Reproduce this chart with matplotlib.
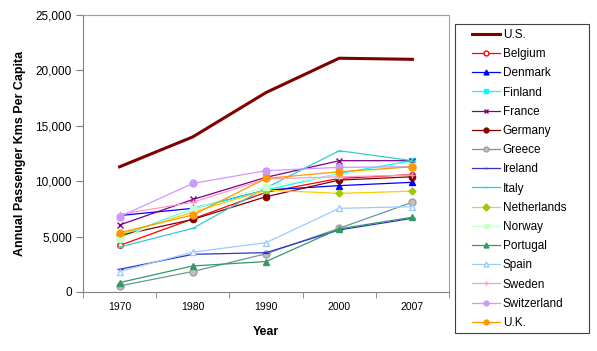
import matplotlib.pyplot as plt
from matplotlib.patches import Rectangle
import numpy as np

plt.rcParams['font.family'] = ['Liberation Sans', 'DejaVu Sans']

years = ['1970', '1980', '1990', '2000', '2007']

us = [11300, 14000, 18000, 21100, 21000]
belgium = [4200, 6600, 9000, 10250, 10600]
denmark = [6900, 7550, 9200, 9600, 9900]
finland = [5000, 7500, 9200, 10700, 11850]
france = [6050, 8350, 10350, 11850, 11850]
germany = [5100, 6550, 8600, 10100, 10400]
greece = [550, 1850, 3450, 5750, 8100]
ireland = [2050, 3400, 3550, 5600, 6650]
italy = [4050, 5750, 9400, 12750, 11850]
netherlands = [5200, 7200, 9200, 8900, 9100]
norway = [4800, 7500, 9500, 10600, 11400]
portugal = [850, 2350, 2750, 5700, 6750]
spain = [1850, 3600, 4450, 7550, 7700]
sweden = [7000, 8100, 10200, 10400, 10550]
switzerland = [6800, 9800, 10950, 11250, 11300]
uk = [5350, 6950, 10250, 10850, 11300]

fig = plt.figure(figsize=(5.97, 3.51), dpi=100)
ax = fig.add_axes([83/597, 1 - 292/351, (449 - 83)/597, (292 - 15)/351])

x = np.arange(len(years))

ax.plot(x, us, color='#800000', lw=2.2, label='U.S.')
ax.plot(x, belgium, color='#FF0000', lw=0.9, marker='o', ms=4, mfc='white', mec='#FF0000', label='Belgium')
ax.plot(x, denmark, color='#0000FF', lw=0.9, marker='^', ms=4.5, label='Denmark')
ax.plot(x, finland, color='#00FFFF', lw=0.9, marker='s', ms=4, label='Finland')
ax.plot(x, france, color='#800080', lw=0.9, marker='x', ms=4.5, label='France')
ax.plot(x, germany, color='#800000', lw=0.9, marker='o', ms=4.5, label='Germany')
ax.plot(x, greece, color='#669999', lw=0.9, marker='o', ms=5, mfc='#C0C0C0', mec='#A0A0A0', label='Greece')
ax.plot(x, ireland, color='#3333CC', lw=0.9, marker='_', ms=5, label='Ireland')
ax.plot(x, italy, color='#33CCCC', lw=0.9, marker='_', ms=5, label='Italy')
ax.plot(x, netherlands, color='#FFCC00', lw=0.9, marker='D', ms=3.5, mfc='#99CC00', mec='#99CC00', label='Netherlands')
ax.plot(x, norway, color='#CCFFCC', lw=0.9, marker='s', ms=4.5, label='Norway')
ax.plot(x, portugal, color='#339966', lw=0.9, marker='^', ms=4.5, label='Portugal')
ax.plot(x, spain, color='#99CCFF', lw=0.9, marker='^', ms=5, mfc='white', mec='#99CCFF', label='Spain')
ax.plot(x, sweden, color='#FF99CC', lw=0.9, marker='+', ms=5, label='Sweden')
ax.plot(x, switzerland, color='#CC99FF', lw=0.9, marker='o', ms=5, label='Switzerland')
ax.plot(x, uk, color='#FF9900', lw=0.9, marker='o', ms=5, label='U.K.')

ax.set_xlim(-0.5, 4.5)
ax.set_ylim(0, 25000)
ax.set_xticks(x)
ax.set_xticklabels(years, fontsize=7.5)
ax.set_xticks(np.arange(-0.5, 5, 1), minor=True)
ax.tick_params(axis='x', which='major', length=0, pad=7)
ax.tick_params(axis='x', which='minor', length=4, direction='out', color='#808080')
ax.set_yticks(np.arange(0, 25001, 5000))
ax.set_yticklabels([f'{v:,}' for v in range(0, 25001, 5000)], fontsize=8.5)
ax.tick_params(axis='y', length=5, direction='out', color='#808080', pad=3)

for s in ['left', 'bottom']:
    ax.spines[s].set_color('#808080')
for s in ['top', 'right']:
    ax.spines[s].set_color('#A0A0A0')

ax.set_xlabel('Year', fontsize=9, fontweight='bold', labelpad=10)
ax.set_ylabel('Annual Passenger Kms Per Capita', fontsize=9, fontweight='bold', labelpad=7)

# legend box drawn separately so the frame can be wider than the entries
fig.patches.append(Rectangle((455/597, 1 - 333/351), 134/597, 309/351,
                             transform=fig.transFigure, fill=False,
                             edgecolor='#404040', lw=0.8))
leg = fig.legend(loc='upper left', bbox_to_anchor=(472/597, 1 - 29/351), borderaxespad=0,
                 fontsize=8.5, labelspacing=0.61, handlelength=2.4, handletextpad=0.2,
                 frameon=False, borderpad=0)
for h in leg.legend_handles:
    h.set_markersize(3.5)

fig.savefig('out.png', dpi=100)
